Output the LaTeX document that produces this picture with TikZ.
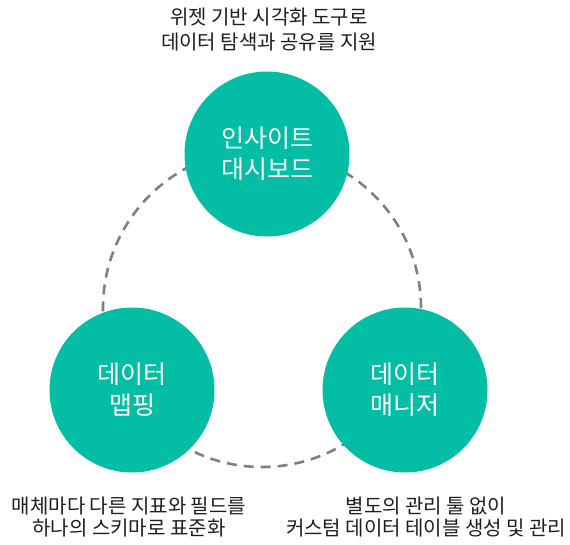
\documentclass[tikz,border=0pt]{standalone}
\usepackage{fontspec}
\setmainfont{Noto Sans CJK KR}
\usetikzlibrary{positioning}
\definecolor{hubgreen}{RGB}{3,190,165}
\definecolor{ringgray}{RGB}{128,128,128}
\definecolor{notetext}{RGB}{30,30,30}

\begin{document}
\begin{tikzpicture}[x=1pt,y=-1pt,
	hub/.style={circle,fill=hubgreen,text=white,minimum size=165pt,inner sep=0pt,align=center,font=\fontsize{25}{31}\selectfont},
	note/.style={align=center,text=notetext,font=\fontsize{20}{25}\selectfont},
	ring/.style={draw=ringgray,line width=2.6pt,dash pattern=on 10pt off 7pt}]
			          \useasboundingbox (0,0) rectangle (570,544);
			          %cercle pointille sous les disques
			          \coordinate (O) at (262,308);
			          \draw[ring] (O) circle (159pt);
			          
			          \node[hub] (insight) at (267,154) {인사이트\\대시보드};
			          \node[hub] (mapping) at (132,390) {데이터\\맵핑};
			          \node[hub] (manager) at (405,390) {데이터\\매니저};
			          
			          %\draw[help lines] (0,0) grid (570,544);
			          \node[note] (insightnote) at (269,29.5) {위젯 기반 시각화 도구로\\데이터 탐색과 공유를 지원};
			          \node[note,font=\fontsize{20}{21.5}\selectfont] (mappingnote) at (129,517) {매체마다 다른 지표와 필드를\\하나의 스키마로 표준화};
			          \node[note,font=\fontsize{20}{21.5}\selectfont] (managernote) at (426,517) {별도의 관리 툴 없이\\커스텀 데이터 테이블 생성 및 관리};
				  \end{tikzpicture}
\end{document}
